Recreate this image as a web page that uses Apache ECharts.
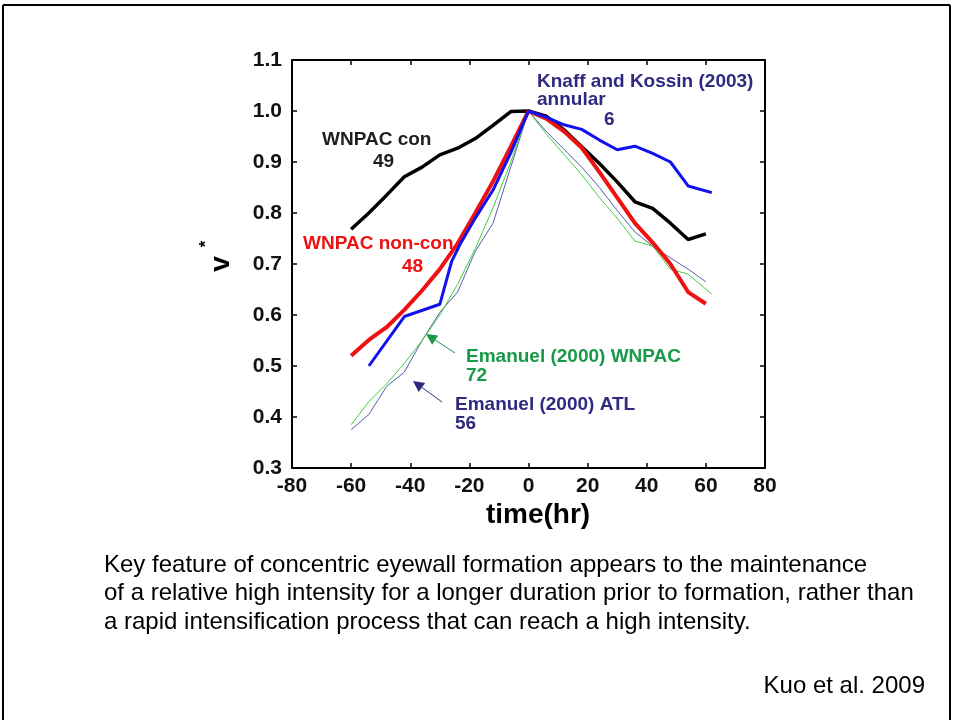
<!DOCTYPE html>
<html>
<head>
<meta charset="utf-8">
<title>Normalized intensity v* vs time</title>
<script src="https://cdn.jsdelivr.net/npm/echarts@6/dist/echarts.min.js"></script>
<style>
  html, body { margin: 0; padding: 0; background: #fff; }
  #chart { width: 953px; height: 720px; }
</style>
</head>
<body>
<div id="chart"></div>
<script>
// time (hr) relative to concentric eyewall formation, and normalized intensity v*
const conTime   = [-60, -54, -48, -42, -36, -30, -24, -18, -12, -6, 0, 6, 12, 18, 24, 30, 36, 42, 48, 54, 60];
const conV      = [0.768, 0.80, 0.835, 0.871, 0.89, 0.914, 0.927, 0.946, 0.972, 0.999, 1.0, 0.99, 0.963, 0.93, 0.897, 0.861, 0.822, 0.809, 0.78, 0.748, 0.759];

const nonconTime = [-60, -54, -48, -42, -36, -30, -24, -18, -12, -6, 0, 6, 12, 18, 24, 30, 36, 42, 48, 54, 60];
const nonconV    = [0.52, 0.551, 0.576, 0.61, 0.648, 0.69, 0.74, 0.80, 0.862, 0.93, 1.0, 0.985, 0.96, 0.928, 0.88, 0.83, 0.78, 0.742, 0.70, 0.645, 0.622];

const annularTime = [-54, -42, -30, -26, -23, -18, -12, -6, 0, 6, 12, 18, 24, 30, 36, 42, 48, 54, 62];
const annularV    = [0.50, 0.597, 0.621, 0.705, 0.74, 0.79, 0.845, 0.918, 1.0, 0.988, 0.973, 0.964, 0.943, 0.924, 0.931, 0.917, 0.90, 0.853, 0.84];

const emWnpacTime = [-60, -54, -48, -42, -36, -30, -24, -18, -12, -6, 0, 6, 12, 18, 24, 30, 36, 42, 48, 54, 62];
const emWnpacV    = [0.385, 0.43, 0.465, 0.505, 0.55, 0.60, 0.66, 0.73, 0.81, 0.90, 1.0, 0.955, 0.915, 0.875, 0.83, 0.79, 0.745, 0.735, 0.69, 0.68, 0.641];

const emAtlTime = [-60, -54, -48, -42, -36, -30, -24, -18, -12, -6, 0, 6, 12, 18, 24, 30, 36, 42, 48, 54, 60];
const emAtlV    = [0.375, 0.405, 0.46, 0.488, 0.55, 0.605, 0.645, 0.725, 0.78, 0.89, 1.0, 0.96, 0.925, 0.89, 0.85, 0.805, 0.763, 0.735, 0.712, 0.69, 0.665];

// axis ticks
const xTicks = [-80, -60, -40, -20, 0, 20, 40, 60, 80];
const yTicks = [0.3, 0.4, 0.5, 0.6, 0.7, 0.8, 0.9, 1.0, 1.1];

const pairs = (t, v) => t.map((x, i) => [x, v[i]]);

const FONT = '"Liberation Sans", Arial, Helvetica, sans-serif';
const NAVY = '#2f2a7e';
const GREEN_TXT = '#179a46';

// arrow from tail to tip with a filled head
function arrow(tail, tip, color) {
  const dx = tip[0] - tail[0], dy = tip[1] - tail[1];
  const len = Math.hypot(dx, dy);
  const ux = dx / len, uy = dy / len;
  const hl = 11, hw = 5.5;
  const bx = tip[0] - ux * hl, by = tip[1] - uy * hl;
  const px = -uy, py = ux;
  return [
    { type: 'line', shape: { x1: tail[0], y1: tail[1], x2: bx, y2: by },
      style: { stroke: color, lineWidth: 1 }, z: 20 },
    { type: 'polygon',
      shape: { points: [tip, [bx + px * hw, by + py * hw], [bx - px * hw, by - py * hw]] },
      style: { fill: color }, z: 20 }
  ];
}

function txt(x, y, text, color, size) {
  return {
    type: 'text', x: x, y: y, z: 20,
    style: { text: text, fill: color, font: 'bold ' + size + 'px ' + FONT,
             textAlign: 'left', textVerticalAlign: 'middle' }
  };
}

const chart = echarts.init(document.getElementById('chart'), null, { renderer: 'canvas' });

const axisLabelStyle = { color: '#111', fontFamily: FONT, fontWeight: 'bold', fontSize: 21 };
const frameLine = { show: true, onZero: false, lineStyle: { color: '#000', width: 2 } };
const innerTick = { show: true, inside: true, length: 5, lineStyle: { color: '#000', width: 1.5 } };

const option = {
  backgroundColor: '#ffffff',
  animation: false,
  grid: { left: 292, top: 60, width: 473, height: 408, containLabel: false },
  xAxis: [
    {
      type: 'value', min: -80, max: 80, interval: 20, position: 'bottom',
      axisLine: frameLine, axisTick: innerTick,
      axisLabel: Object.assign({ margin: 8, formatter: v => xTicks.includes(v) ? String(v) : '' }, axisLabelStyle),
      splitLine: { show: false }
    },
    {
      type: 'value', min: -80, max: 80, interval: 20, position: 'top',
      axisLine: frameLine, axisTick: innerTick,
      axisLabel: { show: false }, splitLine: { show: false }
    }
  ],
  yAxis: [
    {
      type: 'value', min: 0.3, max: 1.1, interval: 0.1, position: 'left',
      axisLine: frameLine, axisTick: innerTick,
      axisLabel: Object.assign({ margin: 10, formatter: v => v.toFixed(1) }, axisLabelStyle),
      splitLine: { show: false }
    },
    {
      type: 'value', min: 0.3, max: 1.1, interval: 0.1, position: 'right',
      axisLine: frameLine, axisTick: innerTick,
      axisLabel: { show: false }, splitLine: { show: false }
    }
  ],
  series: [
    { name: 'Emanuel (2000) ATL', type: 'line', data: pairs(emAtlTime, emAtlV),
      symbol: 'none', lineStyle: { color: '#5a5aaa', width: 1 }, z: 2 },
    { name: 'Emanuel (2000) WNPAC', type: 'line', data: pairs(emWnpacTime, emWnpacV),
      symbol: 'none', lineStyle: { color: '#3fcf3f', width: 1 }, z: 3 },
    { name: 'WNPAC con', type: 'line', data: pairs(conTime, conV),
      symbol: 'none', lineStyle: { color: '#000000', width: 3.5 }, z: 4 },
    { name: 'WNPAC non-con', type: 'line', data: pairs(nonconTime, nonconV),
      symbol: 'none', lineStyle: { color: '#ee1111', width: 4 }, z: 5 },
    { name: 'Knaff and Kossin (2003) annular', type: 'line', data: pairs(annularTime, annularV),
      symbol: 'none', lineStyle: { color: '#1111ee', width: 3 }, z: 6 }
  ],
  graphic: [
    // slide frame
    { type: 'line', shape: { x1: 3, y1: 5, x2: 950, y2: 5 }, style: { stroke: '#000', lineWidth: 2 }, z: 30 },
    { type: 'line', shape: { x1: 3, y1: 5, x2: 3, y2: 720 }, style: { stroke: '#000', lineWidth: 2 }, z: 30 },
    { type: 'line', shape: { x1: 950, y1: 5, x2: 950, y2: 720 }, style: { stroke: '#000', lineWidth: 2 }, z: 30 },

    // axis titles
    { type: 'text', x: 538, y: 515, z: 20,
      style: { text: 'time(hr)', fill: '#000', font: 'bold 28px ' + FONT, textAlign: 'center', textVerticalAlign: 'middle' } },
    { type: 'text', x: 221, y: 264, rotation: Math.PI / 2, z: 20,
      style: { text: 'v', fill: '#000', font: 'bold 28px ' + FONT, textAlign: 'center', textVerticalAlign: 'middle' } },
    { type: 'text', x: 206, y: 244, rotation: Math.PI / 2, z: 20,
      style: { text: '*', fill: '#000', font: 'bold 17px ' + FONT, textAlign: 'center', textVerticalAlign: 'middle' } },

    // series annotations
    txt(322, 140, 'WNPAC con', '#1e1e1e', 19),
    txt(373, 162, '49', '#1e1e1e', 19),
    txt(303, 244, 'WNPAC non-con', '#ee1111', 19),
    txt(402, 267, '48', '#ee1111', 19),
    txt(537, 82, 'Knaff and Kossin (2003)', NAVY, 19),
    txt(537, 100, 'annular', NAVY, 19),
    txt(604, 120, '6', NAVY, 19),
    txt(466, 357, 'Emanuel (2000) WNPAC', GREEN_TXT, 19),
    txt(466, 376, '72', GREEN_TXT, 19),
    txt(455, 405, 'Emanuel (2000) ATL', NAVY, 19),
    txt(455, 424, '56', NAVY, 19),
    ...arrow([455, 353], [426, 334], GREEN_TXT),
    ...arrow([442, 402], [413, 381], NAVY),

    // caption
    { type: 'text', x: 104, y: 565, z: 20,
      style: { text: 'Key feature of concentric eyewall formation appears to the maintenance',
               fill: '#000', font: '24px ' + FONT, textVerticalAlign: 'middle' } },
    { type: 'text', x: 104, y: 593, z: 20,
      style: { text: 'of a relative high intensity for a longer duration prior to formation, rather than',
               fill: '#000', font: '24px ' + FONT, textVerticalAlign: 'middle' } },
    { type: 'text', x: 104, y: 622, z: 20,
      style: { text: 'a rapid intensification process that can reach a high intensity.',
               fill: '#000', font: '24px ' + FONT, textVerticalAlign: 'middle' } },
    { type: 'text', x: 925, y: 686, z: 20,
      style: { text: 'Kuo et al. 2009', fill: '#000', font: '24px ' + FONT,
               textAlign: 'right', textVerticalAlign: 'middle' } }
  ]
};

chart.setOption(option);
</script>
</body>
</html>
